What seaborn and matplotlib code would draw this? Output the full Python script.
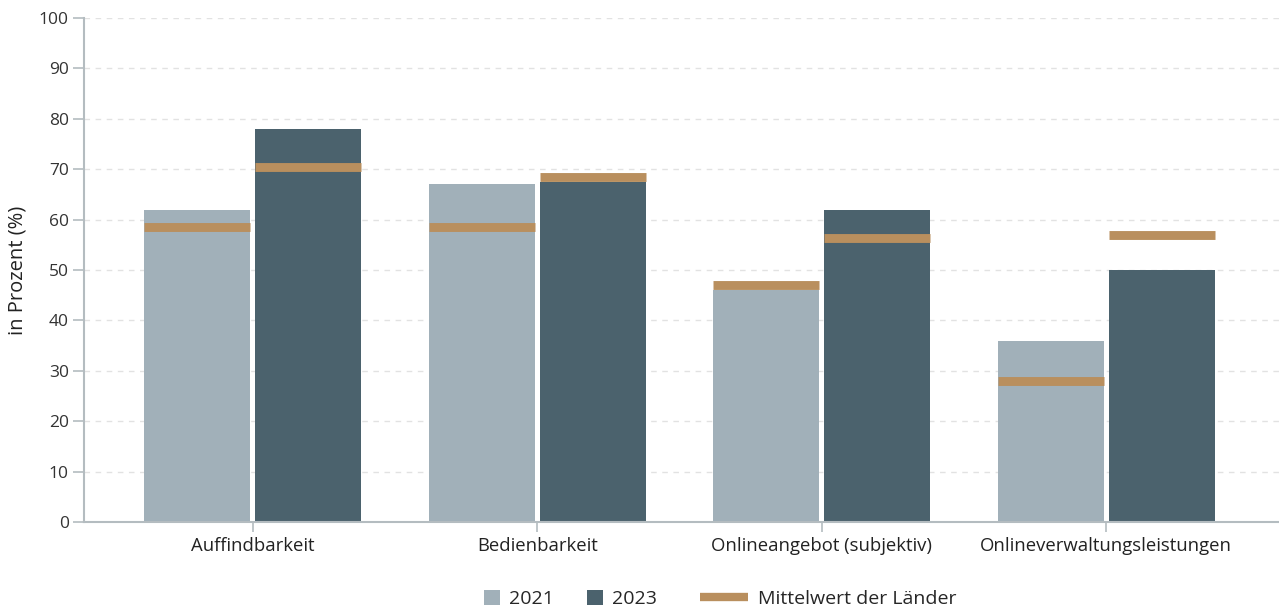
import pandas as pd
import matplotlib.pyplot as plt
import seaborn as sns
from matplotlib.patches import Patch
from matplotlib.lines import Line2D
from matplotlib.legend_handler import HandlerBase

categories = ["Auffindbarkeit", "Bedienbarkeit", "Onlineangebot (subjektiv)", "Onlineverwaltungsleistungen"]
years = ["2021", "2023"]
values_2021 = [62, 67, 46, 36]
values_2023 = [78, 67.5, 62, 50]
mean_2021 = [58.5, 58.6, 47, 28]
mean_2023 = [70.5, 68.4, 56.3, 57]

col_2021 = "#a1b0b9"
col_2023 = "#4b626d"
col_mean = "#b98f5e"
axis_col = "#b4bcc0"

df = pd.DataFrame({
    "Kategorie": categories * 2,
    "Jahr": ["2021"] * 4 + ["2023"] * 4,
    "Wert": values_2021 + values_2023,
    "Mittel": mean_2021 + mean_2023,
})

sns.set_style("white")
plt.rcParams["font.family"] = ["Open Sans", "DejaVu Sans"]

fig = plt.figure(figsize=(12.79, 6.09), dpi=100)
ax = fig.add_axes([84 / 1279, 1 - 522 / 609, 1 - 84 / 1279, (522 - 18) / 609])

sns.barplot(data=df, x="Kategorie", y="Wert", hue="Jahr", order=categories, hue_order=years,
            palette=[col_2021, col_2023], width=0.78, gap=0.045, saturation=1,
            linewidth=0, legend=False, ax=ax)

# Mittelwert-Balken über jede Säule legen
for i, means in enumerate([mean_2021, mean_2023]):
    for bar, m in zip(ax.containers[i].patches, means):
        x0 = bar.get_x()
        ax.hlines(m, x0, x0 + bar.get_width(), color=col_mean, linewidth=6.4, zorder=3)

ax.set_xlim(-0.593, 3.607)
ax.set_ylim(0, 100)
ax.set_yticks(range(0, 101, 10))
ax.yaxis.grid(True, linestyle=(0, (4, 4)), color="#e2e2e2", linewidth=1)
ax.set_axisbelow(True)
ax.get_ygridlines()[0].set_visible(False)

for s in ["top", "right"]:
    ax.spines[s].set_visible(False)
for s in ["left", "bottom"]:
    ax.spines[s].set_color(axis_col)
    ax.spines[s].set_linewidth(1.5)

ax.tick_params(axis="y", length=8, width=1.2, color=axis_col, labelsize=12.5, labelcolor="#333333", pad=3, left=True)
ax.tick_params(axis="x", length=7, width=1.2, color=axis_col, labelsize=13.3, labelcolor="#222222", pad=4, bottom=True)
ax.set_xlabel("")
ax.set_ylabel("in Prozent (%)", fontsize=14.5, color="#222222", labelpad=8)


class WideLine(HandlerBase):
    def create_artists(self, legend, orig_handle, xdescent, ydescent, width, height, fontsize, trans):
        y = height / 2 - ydescent
        line = Line2D([-xdescent, -xdescent + width], [y, y], color=col_mean,
                      linewidth=6, solid_capstyle="butt", transform=trans)
        return [line]


leg1 = fig.legend([Patch(facecolor=col_2021, edgecolor="none"), Patch(facecolor=col_2023, edgecolor="none")],
                  years, loc="center left", bbox_to_anchor=(484 / 1279, 1 - 599 / 609), ncol=2,
                  frameon=False, fontsize=14, handlelength=0.82, handleheight=0.82,
                  handletextpad=0.46, columnspacing=1.7, borderpad=0, borderaxespad=0)
leg2 = fig.legend([Line2D([0], [0], color=col_mean)], ["Mittelwert der Länder"],
                  handler_map={Line2D: WideLine()}, loc="center left",
                  bbox_to_anchor=(700 / 1279, 1 - 599 / 609), frameon=False, fontsize=14,
                  handlelength=2.47, handletextpad=0.5, borderpad=0, borderaxespad=0)

fig.savefig("out.png", dpi=100)
